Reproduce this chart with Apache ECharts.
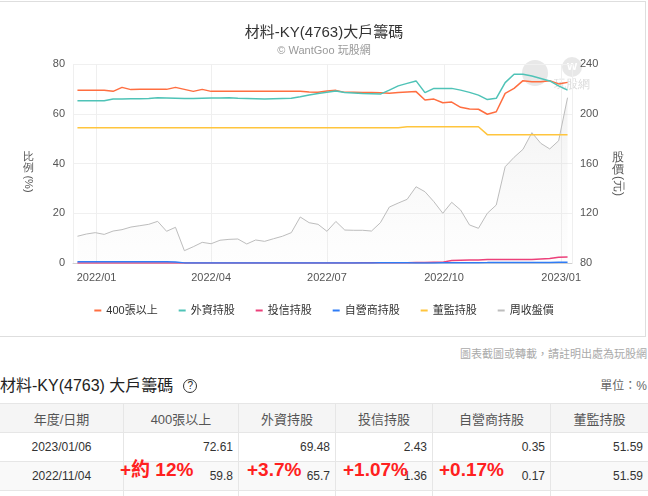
<!DOCTYPE html>
<html>
<head>
<meta charset="utf-8">
<script src="https://cdn.jsdelivr.net/npm/echarts@6/dist/echarts.min.js"></script>
<style>
    html, body {
        margin: 0;
        padding: 0;
        width: 648px;
        height: 496px;
        overflow: hidden;
        background: #fff;
        font-family: 'Liberation Sans', 'Noto Sans CJK TC', sans-serif;
        color: #333;
    }
    #chart {
        position: absolute;
        left: 0;
        top: 0;
        width: 648px;
        height: 337px;
    }
    .chart-frame {
        position: absolute;
        left: -2px;
        top: 1px;
        width: 646px;
        height: 334px;
        border: 1px solid #dedede;
        pointer-events: none;
    }
    .note {
        position: absolute;
        right: 1px;
        top: 345px;
        font-size: 11px;
        color: #aaa;
    }
    .tbl-title {
        position: absolute;
        left: 0;
        top: 372px;
        font-size: 16px;
        color: #222;
    }
    .help {
        display: inline-block;
        width: 12px;
        height: 12px;
        border: 1.5px solid #333;
        border-radius: 50%;
        font-size: 10px;
        line-height: 12px;
        text-align: center;
        margin-left: 10px;
        vertical-align: 2px;
    }
    .unit {
        position: absolute;
        right: 1px;
        top: 376px;
        font-size: 12px;
        color: #666;
    }
    table {
        position: absolute;
        left: -1px;
        top: 403px;
        width: 649px;
        border-collapse: collapse;
        table-layout: fixed;
    }
    th, td {
        border: 1px solid #e6e6e6;
        height: 29px;
        padding: 0 5px;
        font-size: 12px;
        box-sizing: border-box;
    }
    th {
        background: #f5f5f5;
        font-weight: normal;
        color: #555;
        font-size: 13px;
    }
    td {
        text-align: right;
        color: #333;
    }
    td.date {
        text-align: center;
    }
    tr.alt td {
        background: #f9f9f9;
    }
    .mark {
        position: absolute;
        top: 460px;
        color: #ff2020;
        font-size: 19px;
        font-weight: bold;
        line-height: 20px;
        white-space: nowrap;
    }
</style>
</head>
<body>
<div id="chart"></div>
<div class="chart-frame"></div>
<div class="note">圖表截圖或轉載，請註明出處為玩股網</div>
<div class="tbl-title">材料-KY(4763) 大戶籌碼<span class="help">?</span></div>
<div class="unit">單位：%</div>
<table id="tbl">
    <colgroup>
        <col style="width:124px">
        <col style="width:115px">
        <col style="width:97px">
        <col style="width:97px">
        <col style="width:118px">
        <col style="width:98px">
    </colgroup>
    <thead><tr id="tblHead"></tr></thead>
    <tbody id="tblBody"></tbody>
</table>
<div class="mark" style="left:120px">+約 12%</div>
<div class="mark" style="left:247px">+3.7%</div>
<div class="mark" style="left:343px">+1.07%</div>
<div class="mark" style="left:439px">+0.17%</div>
<script>
    // 每週資料 (週五)
    var weeks = [
        '2021-12-17', '2021-12-24', '2021-12-31',
        '2022-01-07', '2022-01-14', '2022-01-21', '2022-01-28',
        '2022-02-04', '2022-02-11', '2022-02-18', '2022-02-25',
        '2022-03-04', '2022-03-11', '2022-03-18', '2022-03-25',
        '2022-04-01', '2022-04-08', '2022-04-15', '2022-04-22', '2022-04-29',
        '2022-05-06', '2022-05-13', '2022-05-20', '2022-05-27',
        '2022-06-03', '2022-06-10', '2022-06-17', '2022-06-24',
        '2022-07-01', '2022-07-08', '2022-07-15', '2022-07-22', '2022-07-29',
        '2022-08-05', '2022-08-12', '2022-08-19', '2022-08-26',
        '2022-09-02', '2022-09-09', '2022-09-16', '2022-09-23', '2022-09-30',
        '2022-10-07', '2022-10-14', '2022-10-21', '2022-10-28',
        '2022-11-04', '2022-11-11', '2022-11-18', '2022-11-25',
        '2022-12-02', '2022-12-09', '2022-12-16', '2022-12-23', '2022-12-30',
        '2023-01-06'
    ];
    var big400 = [
        69.4, 69.4, 69.4, 69.4, 69.0, 70.6, 69.7, 69.8, 69.8, 69.8,
        69.8, 70.6, 69.8, 69.0, 69.8, 69.0, 69.0, 69.0, 69.0, 69.0,
        69.0, 69.0, 69.0, 69.0, 69.0, 69.0, 68.7, 68.6, 69.1, 69.4,
        68.6, 68.6, 68.5, 68.5, 68.4, 68.2, 68.5, 68.7, 68.9, 65.5,
        65.9, 64.4, 64.7, 62.6, 61.9, 61.8, 59.8, 60.8, 68.2, 70.2,
        73.3, 72.9, 72.9, 73.3, 72.0, 72.61
    ];
    var foreign = [
        65.2, 65.2, 65.2, 65.2, 65.9, 65.9, 66.0, 66.0, 66.1, 66.4,
        66.3, 66.2, 66.1, 66.1, 66.2, 66.3, 66.3, 66.4, 66.2, 66.1,
        66.0, 65.9, 66.0, 66.1, 66.2, 66.8, 67.5, 68.1, 68.6, 69.1,
        68.5, 68.3, 68.1, 68.0, 67.9, 69.5, 71.2, 72.2, 73.2, 68.5,
        70.2, 70.2, 70.2, 69.5, 68.6, 67.5, 65.7, 66.2, 72.5, 75.9,
        75.9, 75.2, 74.2, 73.2, 71.2, 69.48
    ];
    var trust = [
        0, 0, 0, 0, 0, 0, 0, 0, 0, 0,
        0, 0, 0, 0, 0, 0, 0, 0, 0, 0,
        0, 0, 0, 0, 0, 0, 0, 0, 0, 0,
        0, 0.05, 0.1, 0.1, 0.1, 0.1, 0.1, 0.15, 0.2, 0.25,
        0.3, 0.35, 1.0, 1.1, 1.2, 1.25, 1.36, 1.36, 1.36, 1.36,
        1.36, 1.4, 1.6, 1.8, 2.3, 2.43
    ];
    var dealer = [
        0.5, 0.5, 0.5, 0.5, 0.5, 0.5, 0.5, 0.5, 0.5, 0.5,
        0.5, 0.45, 0.05, 0.05, 0.05, 0.05, 0.05, 0.05, 0.05, 0.05,
        0.05, 0.05, 0.05, 0.05, 0.05, 0.05, 0.05, 0.05, 0.05, 0.05,
        0.05, 0.05, 0.05, 0.05, 0.1, 0.15, 0.15, 0.1, 0.05, 0.05,
        0.05, 0.1, 0.15, 0.15, 0.15, 0.15, 0.17, 0.2, 0.2, 0.2,
        0.2, 0.25, 0.25, 0.25, 0.32, 0.35
    ];
    var directors = [
        54.4, 54.4, 54.4, 54.4, 54.4, 54.4, 54.4, 54.4, 54.4, 54.4,
        54.4, 54.4, 54.4, 54.4, 54.4, 54.4, 54.4, 54.4, 54.4, 54.4,
        54.4, 54.4, 54.4, 54.4, 54.4, 54.4, 54.4, 54.4, 54.4, 54.4,
        54.4, 54.4, 54.4, 54.4, 54.4, 54.4, 54.4, 54.8, 54.8, 54.8,
        54.8, 54.8, 54.8, 54.8, 54.8, 54.8, 51.59, 51.59, 51.59, 51.59,
        51.59, 51.59, 51.59, 51.59, 51.59, 51.59
    ];
    var closePrice = [
        101.5, 103.3, 104.4, 103.0, 105.7, 106.8, 108.9, 110.0, 111.1, 113.5,
        105.5, 108.7, 89.9, 93.1, 96.6, 95.5, 98.3, 99.0, 99.3, 95.3,
        98.5, 97.4, 99.5, 101.5, 104.4, 117.0, 112.4, 111.1, 105.5, 113.4,
        106.5, 106.3, 106.3, 105.7, 112.4, 125.0, 128.2, 131.2, 141.3, 137.3,
        129.3, 120.0, 128.8, 122.6, 110.6, 107.9, 120.0, 126.6, 157.4, 165.0,
        171.4, 184.8, 176.2, 171.7, 178.3, 212.9
    ];

    var seriesNames = ['400張以上', '外資持股', '投信持股', '自營商持股', '董監持股', '周收盤價'];
    var seriesColors = ['#ff6e40', '#4fc3b7', '#ec407a', '#2f7cf6', '#ffc53d', '#bdbdbd'];

    // 下方表格
    var tableHead = ['年度/日期', '400張以上', '外資持股', '投信持股', '自營商持股', '董監持股'];
    var tableDates = ['2023/01/06', '2022/11/04', ''];
    var tableBig400 = ['72.61', '59.8', ''];
    var tableForeign = ['69.48', '65.7', ''];
    var tableTrust = ['2.43', '1.36', ''];
    var tableDealer = ['0.35', '0.17', ''];
    var tableDirectors = ['51.59', '51.59', ''];

    var fontFamily = "'Liberation Sans', 'Noto Sans CJK TC', sans-serif";

    function pair(arr) {
        return weeks.map(function (d, i) {
            return [d, arr[i]];
        });
    }

    function fmtMonth(value) {
        var d = new Date(value);
        var m = d.getMonth() + 1;
        return d.getFullYear() + '/' + (m < 10 ? '0' + m : m);
    }

    var day = 24 * 3600 * 1000;
    var chart = echarts.init(document.getElementById('chart'));
    chart.setOption({
        backgroundColor: '#fff',
        animation: false,
        textStyle: {fontFamily: fontFamily},
        color: seriesColors,
        title: {
            text: '材料-KY(4763)大戶籌碼',
            subtext: '© WantGoo 玩股網',
            left: 'center',
            top: 20,
            itemGap: 5,
            textStyle: {fontSize: 15, fontWeight: 'normal', color: '#333', fontFamily: fontFamily},
            subtextStyle: {fontSize: 11, color: '#999', fontFamily: fontFamily}
        },
        legend: {
            data: seriesNames,
            top: 300,
            left: 'center',
            icon: 'rect',
            itemWidth: 7,
            itemHeight: 2,
            itemGap: 21,
            textStyle: {fontSize: 11, color: '#333'}
        },
        grid: {
            left: 73,
            right: 76,
            top: 64,
            bottom: 74
        },
        xAxis: {
            type: 'time',
            min: +new Date(2021, 11, 13, 12),
            max: +new Date(2023, 0, 9, 12),
            splitNumber: 4,
            minInterval: 95 * day,
            maxInterval: 100 * day,
            axisLine: {lineStyle: {color: '#d0d0d0'}},
            axisTick: {show: false},
            axisLabel: {
                color: '#555',
                fontSize: 11,
                margin: 9,
                showMinLabel: false,
                showMaxLabel: false,
                formatter: fmtMonth
            },
            splitLine: {show: true, lineStyle: {color: '#efefef'}}
        },
        yAxis: [
            {
                type: 'value',
                min: 0,
                max: 80,
                interval: 20,
                position: 'left',
                axisLine: {show: false},
                axisTick: {show: false},
                axisLabel: {color: '#555', fontSize: 11, margin: 8},
                splitLine: {lineStyle: {color: '#f0f0f0'}}
            },
            {
                type: 'value',
                min: 80,
                max: 240,
                interval: 40,
                position: 'right',
                axisLine: {show: false},
                axisTick: {show: false},
                axisLabel: {color: '#555', fontSize: 11, margin: 8},
                splitLine: {show: false}
            }
        ],
        graphic: [
            // 浮水印
            {type: 'circle', shape: {cx: 535, cy: 73, r: 13}, style: {fill: '#e8e8e8'}, z: 0, silent: true},
            {type: 'circle', shape: {cx: 572, cy: 67, r: 10}, style: {fill: '#e8e8e8'}, z: 0, silent: true},
            {type: 'text', x: 572, y: 66, style: {text: 'w', fill: '#fff', fontSize: 13, fontWeight: 'bold', align: 'center', verticalAlign: 'middle'}, z: 0, silent: true},
            {type: 'text', x: 572, y: 85, style: {text: '玩股網', fill: '#dcdcdc', fontSize: 12, align: 'center', verticalAlign: 'middle'}, z: 0, silent: true},
            // 座標軸名稱
            {type: 'text', x: 28, y: 162, style: {text: '比\n例', fill: '#555', fontSize: 11, lineHeight: 11, align: 'center', verticalAlign: 'middle'}},
            {type: 'text', x: 28, y: 184, rotation: -Math.PI / 2, style: {text: '(%)', fill: '#555', fontSize: 11, align: 'center', verticalAlign: 'middle'}},
            {type: 'text', x: 618, y: 164, style: {text: '股\n價', fill: '#555', fontSize: 12, lineHeight: 12, align: 'center', verticalAlign: 'middle'}},
            {type: 'text', x: 618, y: 186, rotation: -Math.PI / 2, style: {text: '(元)', fill: '#555', fontSize: 12, align: 'center', verticalAlign: 'middle'}}
        ],
        series: [
            {
                name: seriesNames[0],
                type: 'line',
                data: pair(big400),
                showSymbol: false,
                lineStyle: {width: 1.5},
                z: 4
            },
            {
                name: seriesNames[1],
                type: 'line',
                data: pair(foreign),
                showSymbol: false,
                lineStyle: {width: 1.5},
                z: 4
            },
            {
                name: seriesNames[2],
                type: 'line',
                data: pair(trust),
                showSymbol: false,
                lineStyle: {width: 1.5},
                z: 4
            },
            {
                name: seriesNames[3],
                type: 'line',
                data: pair(dealer),
                showSymbol: false,
                lineStyle: {width: 1.5},
                z: 4
            },
            {
                name: seriesNames[4],
                type: 'line',
                data: pair(directors),
                showSymbol: false,
                lineStyle: {width: 1.5},
                z: 4
            },
            {
                name: seriesNames[5],
                type: 'line',
                yAxisIndex: 1,
                data: pair(closePrice),
                showSymbol: false,
                lineStyle: {width: 1},
                areaStyle: {
                    origin: 'start',
                    color: new echarts.graphic.LinearGradient(0, 0, 0, 1, [
                        {offset: 0, color: 'rgba(190,190,190,0.30)'},
                        {offset: 1, color: 'rgba(230,230,230,0.08)'}
                    ])
                },
                z: 3
            }
        ]
    });

    // 表格
    var head = document.getElementById('tblHead');
    tableHead.forEach(function (h) {
        var th = document.createElement('th');
        th.textContent = h;
        head.appendChild(th);
    });
    var body = document.getElementById('tblBody');
    tableDates.forEach(function (d, i) {
        var tr = document.createElement('tr');
        if (i === 1) tr.className = 'alt';
        var cells = [d, tableBig400[i], tableForeign[i], tableTrust[i], tableDealer[i], tableDirectors[i]];
        cells.forEach(function (c, j) {
            var td = document.createElement('td');
            if (j === 0) td.className = 'date';
            td.textContent = c;
            tr.appendChild(td);
        });
        body.appendChild(tr);
    });
</script>
</body>
</html>
